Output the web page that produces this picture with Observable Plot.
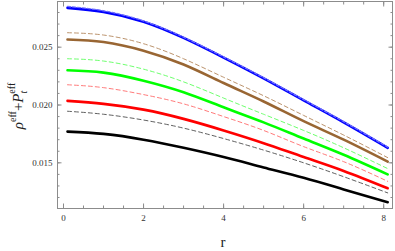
<!DOCTYPE html>
<html><head><meta charset="utf-8">
<script src="https://cdn.jsdelivr.net/npm/d3@7"></script>
<script src="https://cdn.jsdelivr.net/npm/@observablehq/plot@0.6"></script>
<style>
body{margin:0;background:#fff;} svg{display:block;}
svg text{font-family:"Liberation Serif","Times New Roman",serif !important;}
</style>
</head><body><div id="chart"></div>
<script>
// radial coordinate samples
const r = [0.1, 1, 2, 3, 4, 5, 6, 7, 8.1];
// series values (rho_eff + P_t_eff)
const blueSolid   = [0.0284, 0.02805, 0.0272, 0.0258, 0.0241, 0.0223, 0.0204, 0.0185, 0.0163];
const blueDashed  = [0.02852, 0.02815, 0.02727, 0.02586, 0.02416, 0.02236, 0.02046, 0.01856, 0.01636];
const brownSolid  = [0.02567, 0.02545, 0.0247, 0.0235, 0.0219, 0.0203, 0.0186, 0.0170, 0.0151];
const brownDashed = [0.02625, 0.02605, 0.0253, 0.0240, 0.0224, 0.0208, 0.0191, 0.0174, 0.01545];
const greenSolid  = [0.0230, 0.0228, 0.0221, 0.0211, 0.0198, 0.0185, 0.0171, 0.0157, 0.0140];
const greenDashed = [0.0240, 0.0238, 0.0231, 0.0220, 0.0206, 0.0192, 0.0178, 0.0163, 0.0145];
const redSolid    = [0.02036, 0.0201, 0.0196, 0.0188, 0.0178, 0.0167, 0.0155, 0.0143, 0.0128];
const redDashed   = [0.02175, 0.0215, 0.0209, 0.0201, 0.0190, 0.0178, 0.0164, 0.0151, 0.0134];
const blackSolid  = [0.0177, 0.0175, 0.0170, 0.0163, 0.0155, 0.0146, 0.0137, 0.0127, 0.0116];
const blackDashed = [0.01946, 0.0192, 0.0187, 0.0180, 0.0171, 0.0161, 0.0150, 0.0138, 0.0124];
// tick values
const xMajor = [0, 2, 4, 6, 8];
const xMinor = d3.range(0, 8.01, 0.5);
const yMajor = [0.015, 0.020, 0.025];
const yMinor = d3.range(0.012, 0.0285, 0.001);
const yTickLabels = ["0.015", "0.020", "0.025"];

const series = [
  {values: blackDashed, color: "#4d4d4d", dash: "4,3", width: 0.9},
  {values: redDashed, color: "#ff6b6b", dash: "4,3", width: 0.9},
  {values: greenDashed, color: "#5cff5c", dash: "4,3", width: 0.9},
  {values: brownDashed, color: "#b3875c", dash: "4,3", width: 0.9},
  {values: blackSolid, color: "#000000", dash: null, width: 2.6},
  {values: redSolid, color: "#ff0000", dash: null, width: 2.6},
  {values: greenSolid, color: "#00ff00", dash: null, width: 2.6},
  {values: brownSolid, color: "#996633", dash: null, width: 2.6},
  {values: blueSolid, color: "#0000ff", dash: null, width: 2.6},
  {values: blueDashed, color: "#6f6fff", dash: "3,2", width: 1.3}
];

const lineMarks = series.map(s => Plot.line(r.map((x, i) => ({r: x, v: s.values[i]})), {
  x: "r", y: "v", stroke: s.color, strokeWidth: s.width, strokeDasharray: s.dash,
  curve: "natural"
}));

const frameColor = "#8c8c8c";
const font = "'Liberation Serif', 'Times New Roman', serif";

const plot = Plot.plot({
  width: 395, height: 251,
  marginLeft: 57, marginRight: 3, marginTop: 1, marginBottom: 43,
  style: {fontSize: "9px", background: "#fff"},
  x: {domain: [-0.15, 8.22]},
  y: {domain: [0.01105, 0.02895]},
  marks: [
    ...lineMarks,
    Plot.frame({stroke: frameColor}),
    // bottom
    Plot.axisX(xMajor, {anchor: "bottom", tickSize: -4.5, stroke: frameColor, tickFormat: d => String(d), tickPadding: 11, color: "#333", label: null}),
    Plot.axisX(xMinor, {anchor: "bottom", tickSize: -2.5, stroke: frameColor, tickFormat: () => "", label: null}),
    // top
    Plot.axisX(xMajor, {anchor: "top", tickSize: -4.5, stroke: frameColor, tickFormat: () => "", label: null}),
    Plot.axisX(xMinor, {anchor: "top", tickSize: -2.5, stroke: frameColor, tickFormat: () => "", label: null}),
    // left
    Plot.axisY(yMajor, {anchor: "left", tickSize: -4.5, stroke: frameColor, tickFormat: (d, i) => yTickLabels[i], tickPadding: 9.5, color: "#333", label: null}),
    Plot.axisY(yMinor, {anchor: "left", tickSize: -2.5, stroke: frameColor, tickFormat: () => "", label: null}),
    // right
    Plot.axisY(yMajor, {anchor: "right", tickSize: -4.5, stroke: frameColor, tickFormat: () => "", label: null}),
    Plot.axisY(yMinor, {anchor: "right", tickSize: -2.5, stroke: frameColor, tickFormat: () => "", label: null})
  ]
});

const svg = d3.select(plot);
// x axis label
svg.append("text").attr("x", 223).attr("y", 247).attr("text-anchor", "middle")
  .attr("font-family", font).attr("font-size", 15).attr("fill", "#222").text("r");
// y axis label
const yl = svg.append("text").attr("transform", "translate(23,106) rotate(-90)")
  .attr("text-anchor", "middle").attr("font-family", font).attr("font-size", 15).attr("fill", "#222");
yl.append("tspan").attr("font-style", "italic").text("ρ");
yl.append("tspan").attr("font-size", 10).attr("dy", -7).text("eff");
yl.append("tspan").attr("dy", 7).text("+");
yl.append("tspan").attr("font-style", "italic").text("P");
yl.append("tspan").attr("font-size", 10).attr("font-style", "italic").attr("dy", 4).text("t");
yl.append("tspan").attr("font-size", 10).attr("dx", -3).attr("dy", -12).text("eff");

document.getElementById("chart").appendChild(plot);
</script>
</body></html>
